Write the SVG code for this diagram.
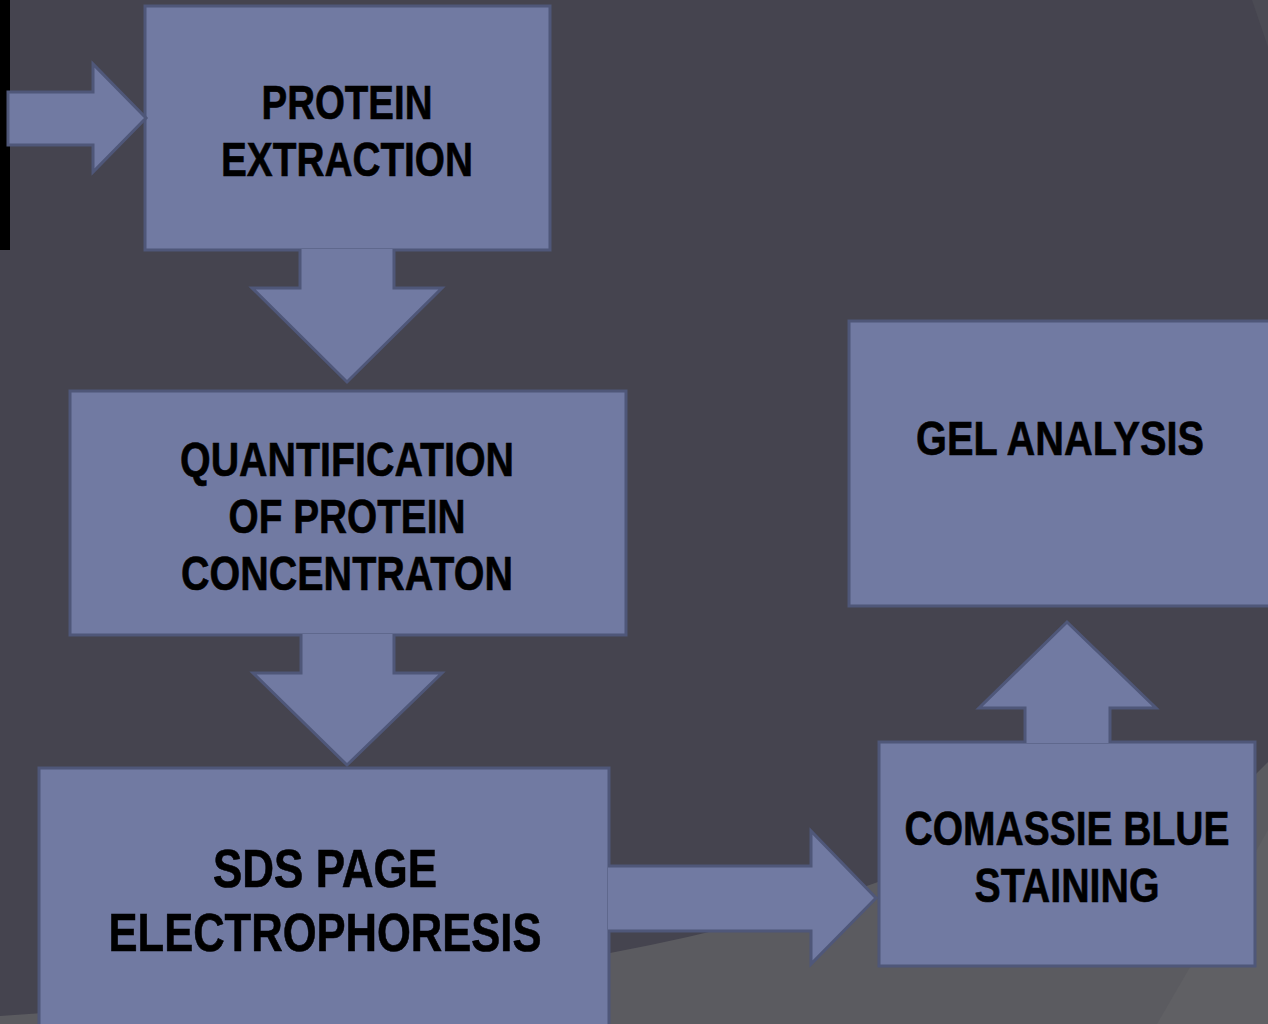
<svg xmlns="http://www.w3.org/2000/svg" width="1268" height="1024" viewBox="0 0 1268 1024">
<style>
.box{fill:#717aa2;stroke:#4f5779;stroke-width:3}
.arr{fill:#717aa2;stroke:#4f5779;stroke-width:3;stroke-linejoin:miter}
.t{font-family:"Liberation Sans Narrow","Liberation Sans",Arial,sans-serif;font-weight:bold;fill:#000;stroke:#000;stroke-width:0.6;text-anchor:middle}
</style>
<rect x="0" y="0" width="1268" height="1024" fill="#45444f"/>
<path d="M0 1016 Q330 995 610 953 Q760 925 878 882 L1252 778 L1268 762 L1268 1024 L0 1024 Z" fill="#5b5b60"/>
<path d="M1157 1024 L1200 950 L1268 830 L1268 1024 Z" fill="#606064"/>
<path d="M1252 0 L1268 0 L1268 47 Z" fill="#4b4b54"/>
<rect x="0" y="0" width="10" height="250" fill="#000"/>

<g id="node-protein-extraction">
<rect class="box" x="145" y="6" width="405" height="244"/>
<text class="t" x="347" y="119" font-size="48" textLength="171" lengthAdjust="spacingAndGlyphs">PROTEIN</text>
<text class="t" x="347" y="176" font-size="48" textLength="252" lengthAdjust="spacingAndGlyphs">EXTRACTION</text>
</g>
<g id="node-quantification">
<rect class="box" x="70" y="391" width="556" height="244"/>
<text class="t" x="347" y="476" font-size="48" textLength="334" lengthAdjust="spacingAndGlyphs">QUANTIFICATION</text>
<text class="t" x="347" y="533" font-size="48" textLength="237" lengthAdjust="spacingAndGlyphs">OF PROTEIN</text>
<text class="t" x="347" y="590" font-size="48" textLength="332" lengthAdjust="spacingAndGlyphs">CONCENTRATON</text>
</g>
<g id="node-sds-page">
<rect class="box" x="39" y="768" width="570" height="300"/>
<text class="t" x="325" y="887" font-size="54" textLength="224" lengthAdjust="spacingAndGlyphs">SDS PAGE</text>
<text class="t" x="325" y="951" font-size="54" textLength="433" lengthAdjust="spacingAndGlyphs">ELECTROPHORESIS</text>
</g>
<g id="node-gel-analysis">
<rect class="box" x="849" y="321" width="430" height="285"/>
<text class="t" x="1060" y="455" font-size="49" textLength="288" lengthAdjust="spacingAndGlyphs">GEL ANALYSIS</text>
</g>
<g id="node-comassie">
<rect class="box" x="879" y="742" width="376" height="224"/>
<text class="t" x="1067" y="845" font-size="48" textLength="325" lengthAdjust="spacingAndGlyphs">COMASSIE BLUE</text>
<text class="t" x="1067" y="902" font-size="48" textLength="185" lengthAdjust="spacingAndGlyphs">STAINING</text>
</g>

<g id="connectors">
<path class="arr" d="M8 92 L93 92 L93 64 L146 118 L93 172 L93 145 L8 145 Z"/>
<path class="arr" d="M300 249 L300 288 L252 288 L347 382 L442 288 L394 288 L394 249"/>
<path class="arr" d="M301 634 L301 673 L253 673 L347 765 L442 673 L394 673 L394 634"/>
<path class="arr" d="M608 866 L811 866 L811 831 L876 898 L811 964 L811 931 L608 931"/>
<path class="arr" d="M1025 743 L1025 708 L979 708 L1067 622 L1156 708 L1110 708 L1110 743"/>
</g>
</svg>
